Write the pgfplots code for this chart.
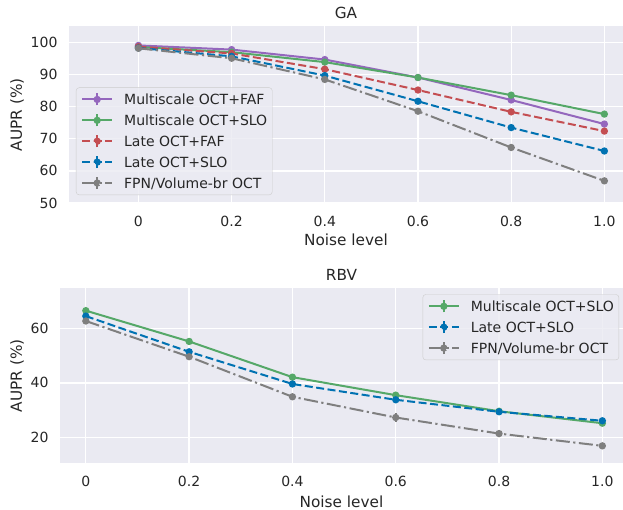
\documentclass[border=0pt]{standalone}
\usepackage{fontspec}
\setmainfont{DejaVu Sans}
\usepackage{pgfplots}
\pgfplotsset{compat=1.18}
\definecolor{bg}{HTML}{EAEAF2}
\definecolor{cpurple}{HTML}{9467BD}
\definecolor{cgreen}{HTML}{55A868}
\definecolor{cred}{HTML}{C44E52}
\definecolor{cblue}{HTML}{0072B2}
\definecolor{cgray}{HTML}{7F7F7F}
\definecolor{tickc}{HTML}{262626}
\definecolor{legedge}{HTML}{CCCCCC}
\newcommand\tickfont{\fontsize{14}{16}\selectfont}
\newcommand\labfont{\fontsize{15.3}{18}\selectfont}
\pgfplotsset{
  sns/.style={
    scale only axis,
    axis background/.style={fill=bg},
    axis line style={draw=none},
    major tick length=0pt,
    xmajorgrids, ymajorgrids,
    major grid style={white, line width=1.3pt},
    tick label style={font=\tickfont, text=tickc},
    xticklabel style={yshift=-9.5pt},
    yticklabel style={xshift=-8pt},
    label style={font=\labfont, text=tickc},
    every axis title shift=0pt,
    title style={font=\labfont, text=tickc, anchor=center, yshift=0pt},
    /pgf/number format/assume math mode=true,
    xtick={0,0.2,0.4,0.6,0.8,1.0},
    xticklabels={0,0.2,0.4,0.6,0.8,1.0},
    xlabel={Noise level}, ylabel={AUPR (\%)},
    xlabel style={anchor=center},
    ylabel style={anchor=center},
    legend cell align=left,
    legend style={font=\tickfont, text=tickc, fill=bg, fill opacity=0.8, text opacity=1,
      draw=legedge, rounded corners=3pt, inner xsep=5pt, inner ysep=4.8pt,
      row sep=6.9pt, column sep=11pt,
      nodes={inner sep=0pt, text height=12pt, text depth=2pt}},
    legend image code/.code={
      \draw[##1, mark=none, fill opacity=1, draw opacity=1] (0pt,0pt) -- (30pt,0pt);
      \draw[##1, solid, mark=none, line width=1.6pt, draw opacity=1] (15pt,-6pt) -- (15pt,6pt);
      \fill[##1, fill opacity=1] (15pt,0pt) circle (2.6pt);
    },
    every axis plot/.append style={line width=2pt, mark=*, mark size=2.6pt, mark options={solid}},
    eb/.style={error bars/.cd, y dir=both, y explicit, error mark=none,
      error bar style={line width=1.6pt, solid}},
  },
  ldash/.style={dash pattern=on 8pt off 3.5pt},
  ldashdot/.style={dash pattern=on 14pt off 3.5pt on 2.2pt off 3.5pt},
}
\begin{document}
\begin{tikzpicture}
\path[use as bounding box] (0pt,0pt) rectangle (623pt,510pt);
% ---------------- GA ----------------
\begin{axis}[sns,
  at={(69pt,307pt)}, anchor=south west,
  width=554pt, height=176.5pt,
  xmin=-0.149, xmax=1.04, ymin=50, ymax=105,
  ytick={50,60,70,80,90,100},
  title={GA}, title style={at={(axis description cs:0.5,1.0765)}},
  xlabel style={at={(axis description cs:0.5,-0.2068)}},
  ylabel style={at={(axis description cs:-0.0939,0.5)}},
  legend style={at={(axis description cs:0.0126,0.045)}, anchor=south west},
]
\addplot[color=cpurple, solid] coordinates {(0,99.1) (0.2,97.8) (0.4,94.7) (0.6,89.1) (0.8,82.1) (1.0,74.6)};
\addlegendentry{Multiscale OCT+FAF}
\addplot[color=cgreen, solid] coordinates {(0,98.6) (0.2,97.0) (0.4,93.9) (0.6,89.1) (0.8,83.6) (1.0,77.7)};
\addlegendentry{Multiscale OCT+SLO}
\addplot[color=cred, ldash] coordinates {(0,98.7) (0.2,96.6) (0.4,91.7) (0.6,85.2) (0.8,78.4) (1.0,72.4)};
\addlegendentry{Late OCT+FAF}
\addplot[color=cblue, ldash] coordinates {(0,98.3) (0.2,95.7) (0.4,89.7) (0.6,81.7) (0.8,73.5) (1.0,66.2)};
\addlegendentry{Late OCT+SLO}
\addplot[color=cgray, ldashdot] coordinates {(0,98.2) (0.2,95.1) (0.4,88.5) (0.6,78.6) (0.8,67.3) (1.0,56.9)};
\addlegendentry{FPN/Volume-br OCT}
\end{axis}
% ---------------- RBV ----------------
\begin{axis}[sns,
  at={(60pt,46.7pt)}, anchor=south west,
  width=563pt, height=175pt,
  xmin=-0.05, xmax=1.04, ymin=10.5, ymax=74.7,
  ytick={20,40,60},
  title={RBV}, title style={at={(axis description cs:0.5,1.076)}},
  xlabel style={at={(axis description cs:0.5,-0.221)}},
  ylabel style={at={(axis description cs:-0.0764,0.5)}},
  legend style={at={(axis description cs:0.993,0.9657)}, anchor=north east},
]
\addplot[color=cgreen, solid, eb] coordinates {(0,66.5) +- (0,0.4) (0.2,55.2) +- (0,0.4) (0.4,42.1) +- (0,0.5) (0.6,35.5) +- (0,1.0) (0.8,29.6) +- (0,1.1) (1.0,25.2) +- (0,1.0)};
\addlegendentry{Multiscale OCT+SLO}
\addplot[color=cblue, ldash, eb] coordinates {(0,64.5) +- (0,0.4) (0.2,51.4) +- (0,0.4) (0.4,39.6) +- (0,0.5) (0.6,33.8) +- (0,0.7) (0.8,29.4) +- (0,0.9) (1.0,26.1) +- (0,0.6)};
\addlegendentry{Late OCT+SLO}
\addplot[color=cgray, ldashdot, eb] coordinates {(0,62.7) +- (0,0.4) (0.2,49.6) +- (0,0.4) (0.4,34.9) +- (0,0.6) (0.6,27.3) +- (0,1.5) (0.8,21.4) +- (0,1.2) (1.0,16.9) +- (0,0.5)};
\addlegendentry{FPN/Volume-br OCT}
\end{axis}
\end{tikzpicture}
\end{document}
